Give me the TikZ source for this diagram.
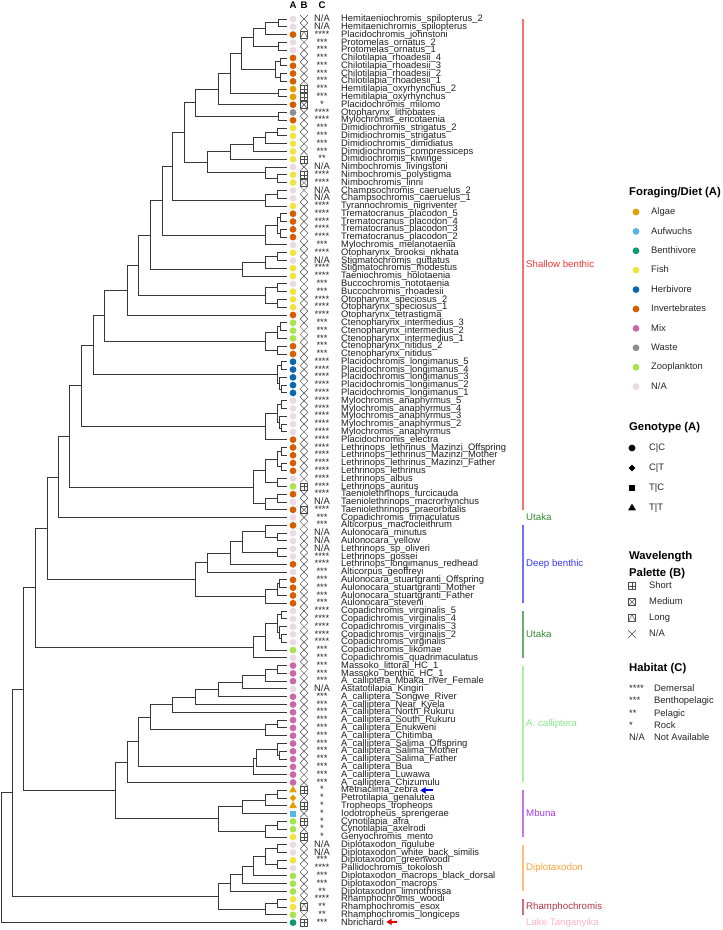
\documentclass[tikz,border=0pt]{standalone}
\usepackage{fontspec}
\setmainfont{Liberation Sans}
\usepackage{xcolor}
\usepackage{tikz}
\usetikzlibrary{shapes.geometric,arrows.meta,calc}
% diet colours
\definecolor{dAlg}{HTML}{E69F00}
\definecolor{dAuf}{HTML}{56B4E9}
\definecolor{dBen}{HTML}{0E9A6E}
\definecolor{dFis}{HTML}{F0E442}
\definecolor{dHer}{HTML}{0B68B0}
\definecolor{dInv}{HTML}{D55E00}
\definecolor{dMix}{HTML}{C86AA6}
\definecolor{dWas}{HTML}{8E8E8E}
\definecolor{dZoo}{HTML}{A8E34E}
\definecolor{dNA}{HTML}{E9DAE3}
% clade colours
\definecolor{cShal}{HTML}{EE3535}
\definecolor{cUtak}{HTML}{2F8A35}
\definecolor{cDeep}{HTML}{3535F2}
\definecolor{cCall}{HTML}{86E886}
\definecolor{cMbun}{HTML}{A63BE6}
\definecolor{cDipl}{HTML}{FFA33C}
\definecolor{cRham}{HTML}{B03345}
\definecolor{cLake}{HTML}{FFB3C3}
\newcommand\txtNA{N/A}
\newcommand\habsym[1]{\ifcase#1 N/A\or *\or **\or ***\or ****\fi}
% internal node: name, x, two children
\newcommand\clade[4]{%
  \path let \p1=(#3), \p2=(#4) in coordinate (#1) at (#2pt,{0.5*\y1+0.5*\y2});
  \draw[branch] (#1) |- (#3) (#1) |- (#4);}
% clade bar: first tip, last tip, colour, label
\newcommand\cladebar[4]{%
  \draw[cbar, draw=#3!70] ($(t#1)+(235.7,0)$) coordinate (cb#1) -- ($(t#2)+(235.7,0)$) coordinate (ce#1);
  \node[cladelab, text=#3] (cl#1) at ($(cb#1)!.5!(ce#1)+(3.3,0)$) {#4};}

\begin{document}
\begin{tikzpicture}[
    x=1pt, y=-1pt,
    font=\fontsize{9.4}{10}\selectfont,
    branch/.style={line width=0.9pt, draw=black!78},
    genoC/.style={circle, inner sep=0pt, minimum size=6.8pt},
    genoD/.style={diamond, inner sep=0pt, minimum size=7pt},
    genoS/.style={rectangle, inner sep=0pt, minimum size=6pt},
    genoT/.style={regular polygon, regular polygon sides=3, inner sep=0pt, minimum size=9pt},
    palbox/.style={rectangle, draw=black!70, line width=0.45pt, inner sep=0pt, minimum size=7pt},
    palS/.style={palbox, path picture={\draw[black!70, line width=0.45pt]
        (path picture bounding box.north) -- (path picture bounding box.south)
        (path picture bounding box.west) -- (path picture bounding box.east);}},
    palM/.style={palbox, path picture={\draw[black!70, line width=0.45pt]
        (path picture bounding box.north west) -- (path picture bounding box.south east)
        (path picture bounding box.north east) -- (path picture bounding box.south west);}},
    palL/.style={palbox, path picture={\draw[black!70, line width=0.45pt]
        (path picture bounding box.south west) -- (path picture bounding box.north)
        -- (path picture bounding box.south east);}},
    palN/.style={rectangle, inner sep=0pt, minimum size=7.6pt, path picture={\draw[black!70, line width=0.5pt]
        (path picture bounding box.north west) -- (path picture bounding box.south east)
        (path picture bounding box.north east) -- (path picture bounding box.south west);}},
    habtxt/.style={inner sep=0pt, anchor=mid, text=black!85},
    tiplab/.style={anchor=mid west, inner sep=0pt, text=black!88},
    hdr/.style={inner sep=0pt, font=\fontsize{9.6}{11}\selectfont\bfseries},
    cbar/.style={line width=1.7pt},
    cladelab/.style={anchor=mid west, inner sep=0pt, font=\fontsize{9.7}{11}\selectfont},
    legtxt/.style={anchor=mid west, inner sep=0pt, text=black!85},
    legtitle/.style={anchor=mid west, inner sep=0pt, font=\fontsize{11.3}{13}\selectfont\bfseries},
    pointer/.style={line width=1.9pt, -{Triangle[length=5.5pt, width=6.2pt]}}
  ]
  \useasboundingbox (0,0) rectangle (723,930);

  % column heads
  \node[hdr] (hA) at (293,5) {A};
  \node[hdr] (hB) at (304,5) {B};
  \node[hdr] (hC) at (322,5) {C};

  % tips: label / diet / genotype / palette / habitat
  \foreach \lbl/\diet/\gen/\pal/\hab [count=\i] in {
    Hemitaeniochromis\_spilopterus\_2/NA/C/N/0,
    Hemitaenichromis\_spilopterus/NA/C/N/0,
    Placidochromis\_johnstoni/Inv/C/L/4,
    Protomelas\_ornatus\_2/NA/C/N/3,
    Protomelas\_ornatus\_1/NA/C/N/3,
    Chilotilapia\_rhoadesii\_4/Inv/C/N/3,
    Chilotilapia\_rhoadesii\_3/Inv/C/N/3,
    Chilotilapia\_rhoadesii\_2/Inv/C/N/3,
    Chilotilapia\_rhoadesii\_1/Inv/C/N/3,
    Hemitilapia\_oxyrhynchus\_2/Alg/C/S/3,
    Hemitilapia\_oxyrhynchus/Alg/C/S/3,
    Placidochromis\_milomo/Inv/C/M/1,
    Otopharynx\_lithobates/Was/C/N/4,
    Mylochromis\_ericotaenia/Inv/C/N/4,
    Dimidiochromis\_strigatus\_2/Fis/C/N/3,
    Dimidiochromis\_strigatus/Fis/C/N/3,
    Dimidiochromis\_dimidiatus/Fis/C/N/3,
    Dimidiochromis\_compressiceps/Fis/C/N/3,
    Dimidiochromis\_kiwinge/Fis/C/S/2,
    Nimbochromis\_livingstoni/NA/C/N/0,
    Nimbochromis\_polystigma/Fis/C/S/4,
    Nimbochromis\_linni/Fis/C/M/4,
    Champsochromis\_caeruelus\_2/NA/C/N/0,
    Champsochromis\_caeruelus\_1/NA/C/N/0,
    Tyrannochromis\_nigriventer/Fis/C/N/4,
    Trematocranus\_placodon\_5/Inv/C/N/4,
    Trematocranus\_placodon\_4/Inv/C/N/4,
    Trematocranus\_placodon\_3/Inv/C/N/4,
    Trematocranus\_placodon\_2/Inv/C/N/4,
    Mylochromis\_melanotaenia/NA/C/N/3,
    Otopharynx\_brooksi\_nkhata/Fis/C/N/4,
    Stigmatochromis\_guttatus/NA/C/N/0,
    Stigmatochromis\_modestus/Fis/C/N/4,
    Taeniochromis\_holotaenia/Fis/C/N/4,
    Buccochromis\_nototaenia/NA/C/N/3,
    Buccochromis\_rhoadesii/Fis/C/N/3,
    Otopharynx\_speciosus\_2/Fis/C/N/4,
    Otopharynx\_speciosus\_1/Fis/C/N/4,
    Otopharynx\_tetrastigma/Inv/C/N/4,
    Ctenopharynx\_intermedius\_3/Zoo/C/N/3,
    Ctenopharynx\_intermedius\_2/Zoo/C/N/3,
    Ctenopharynx\_intermedius\_1/Zoo/C/N/3,
    Ctenopharynx\_nitidus\_2/Inv/C/N/3,
    Ctenopharynx\_nitidus/Inv/C/N/3,
    Placidochromis\_longimanus\_5/Her/C/N/4,
    Placidochromis\_longimanus\_4/Her/C/N/4,
    Placidochromis\_longimanus\_3/Her/C/N/4,
    Placidochromis\_longimanus\_2/Her/C/N/4,
    Placidochromis\_longimanus\_1/Her/C/N/4,
    Mylochromis\_anaphyrmus\_5/NA/C/N/4,
    Mylochromis\_anaphyrmus\_4/NA/C/N/4,
    Mylochromis\_anaphyrmus\_3/NA/C/N/4,
    Mylochromis\_anaphyrmus\_2/NA/C/N/4,
    Mylochromis\_anaphyrmus/NA/C/N/4,
    Placidochromis\_electra/Inv/C/N/4,
    Lethrinops\_lethrinus\_Mazinzi\_Offspring/Inv/C/N/4,
    Lethrinops\_lethrinus\_Mazinzi\_Mother/Inv/C/N/4,
    Lethrinops\_lethrinus\_Mazinzi\_Father/Inv/C/N/4,
    Lethrinops\_lethrinus/Inv/C/N/4,
    Lethrinops\_albus/NA/C/N/4,
    Lethrinops\_auritus/Zoo/C/S/4,
    Taeniolethrinops\_furcicauda/Inv/C/N/4,
    Taeniolethrinops\_macrorhynchus/NA/C/N/0,
    Taeniolethrinops\_praeorbitalis/Inv/C/M/4,
    Copadichromis\_trimaculatus/NA/C/N/3,
    Alticorpus\_macrocleithrum/Inv/C/N/3,
    Aulonocara\_minutus/NA/C/N/0,
    Aulonocara\_yellow/NA/C/N/0,
    Lethrinops\_sp\_oliveri/NA/C/N/0,
    Lethrinops\_gossei/NA/C/N/4,
    Lethrinops\_longimanus\_redhead/Inv/C/N/4,
    Alticorpus\_geoffreyi/NA/C/N/3,
    Aulonocara\_stuartgranti\_Offspring/Inv/C/N/3,
    Aulonocara\_stuartgranti\_Mother/Inv/C/N/3,
    Aulonocara\_stuartgranti\_Father/Inv/C/N/3,
    Aulonocara\_steveni/Inv/C/N/3,
    Copadichromis\_virginalis\_5/NA/C/N/4,
    Copadichromis\_virginalis\_4/NA/C/N/4,
    Copadichromis\_virginalis\_3/NA/C/N/4,
    Copadichromis\_virginalis\_2/NA/C/N/4,
    Copadichromis\_virginalis/NA/C/N/4,
    Copadichromis\_likomae/Zoo/C/N/3,
    Copadichromis\_quadrimaculatus/NA/C/N/3,
    Massoko\_littoral\_HC\_1/Mix/C/N/3,
    Massoko\_benthic\_HC\_1/Mix/C/N/3,
    A\_calliptera\_Mbaka\_river\_Female/Mix/C/N/3,
    Astatotilapia\_Kingiri/NA/C/N/0,
    A\_calliptera\_Songwe\_River/Mix/C/N/3,
    A\_calliptera\_Near\_Kyela/Mix/C/N/3,
    A\_calliptera\_North\_Rukuru/Mix/C/N/3,
    A\_calliptera\_South\_Rukuru/Mix/C/N/3,
    A\_calliptera\_Enukweni/Mix/C/N/3,
    A\_calliptera\_Chitimba/Mix/C/N/3,
    A\_calliptera\_Salima\_Offspring/Mix/C/N/3,
    A\_calliptera\_Salima\_Mother/Mix/C/N/3,
    A\_calliptera\_Salima\_Father/Mix/C/N/3,
    A\_calliptera\_Bua/Mix/C/N/3,
    A\_calliptera\_Luwawa/Mix/C/N/3,
    A\_calliptera\_Chizumulu/Mix/C/N/3,
    Metriaclima\_zebra/Alg/T/S/1,
    Petrotilapia\_genalutea/Alg/D/N/1,
    Tropheops\_tropheops/Alg/T/S/1,
    Iodotropheus\_sprengerae/Auf/S/N/1,
    Cynotilapia\_afra/Zoo/C/S/1,
    Cynotilapia\_axelrodi/Zoo/C/N/1,
    Genyochromis\_mento/Fis/C/S/1,
    Diplotaxodon\_ngulube/NA/C/N/0,
    Diplotaxodon\_white\_back\_similis/NA/C/N/0,
    Diplotaxodon\_greenwoodi/Fis/C/N/3,
    Pallidochromis\_tokolosh/NA/C/N/4,
    Diplotaxodon\_macrops\_black\_dorsal/Zoo/C/N/3,
    Diplotaxodon\_macrops/Zoo/C/N/3,
    Diplotaxodon\_limnothrissa/Zoo/C/N/2,
    Rhamphochromis\_woodi/Fis/C/N/4,
    Rhamphochromis\_esox/Fis/C/L/2,
    Rhamphochromis\_longiceps/Zoo/C/N/2,
    Nbrichardi/Ben/C/S/3}{
    \pgfmathsetmacro\ty{19+7.79*(\i-1)}
    \coordinate (t\i) at (287,\ty);
    \node[geno\gen, fill=d\diet] (d\i) at (293,\ty) {};
    \node[pal\pal] (p\i) at (304,\ty) {};
    \node[habtxt] (h\i) at (322,\ty) {\habsym{\hab}};
    \node[tiplab] (lab\i) at (341,\ty) {\lbl};
  }

  % tree, top to bottom
  \clade{n1}{278}{t1}{t2}
  \clade{n2}{265}{n1}{t3}
  \clade{n3}{278}{t4}{t5}
  \clade{n4}{253}{n2}{n3}
  \clade{n5}{280}{t6}{t7}
  \clade{n6}{280}{t8}{t9}
  \clade{n7}{275}{n5}{n6}
  \clade{n8}{241}{n4}{n7}
  \clade{n9}{278}{t10}{t11}
  \clade{n10}{230}{n8}{n9}
  \clade{n11}{218}{n10}{t12}
  \clade{n12}{278}{t13}{t14}
  \clade{n13}{195}{n11}{n12}
  \clade{n14}{277}{t15}{t16}
  \clade{n15}{265}{n14}{t17}
  \clade{n16}{253}{n15}{t18}
  \clade{n17}{230}{n16}{t19}
  \clade{n18}{277}{t21}{t22}
  \clade{n19}{265}{t20}{n18}
  \clade{n20}{207}{n17}{n19}
  \clade{n21}{184}{n13}{n20}
  \clade{n22}{277}{t23}{t24}
  \clade{n23}{265}{n22}{t25}
  \clade{n24}{172}{n21}{n23}
  \clade{n25}{280}{t26}{t27}
  \clade{n26}{280}{t28}{t29}
  \clade{n27}{277}{n25}{n26}
  \clade{n28}{265}{n27}{t30}
  \clade{n29}{162}{n24}{n28}
  \clade{n30}{277}{t31}{t32}
  \clade{n31}{265}{n30}{t33}
  \clade{n32}{242}{n31}{t34}
  \clade{n33}{150}{n29}{n32}
  \clade{n34}{277}{t35}{t36}
  \clade{n35}{277}{t37}{t38}
  \clade{n36}{265}{n34}{n35}
  \clade{n37}{138}{n33}{n36}
  \clade{n38}{127}{n37}{t39}
  \clade{n39}{280}{t40}{t41}
  \clade{n40}{277}{n39}{t42}
  \clade{n41}{277}{t43}{t44}
  \clade{n42}{265}{n40}{n41}
  \clade{n43}{104}{n38}{n42}
  \clade{n44}{281}{t45}{t46}
  \clade{n45}{281}{t48}{t49}
  \clade{n46}{279}{t47}{n45}
  \clade{n47}{277}{n44}{n46}
  \clade{n48}{93}{n43}{n47}
  \clade{n49}{281}{t50}{t51}
  \clade{n50}{281}{t53}{t54}
  \clade{n51}{279}{t52}{n50}
  \clade{n52}{277}{n49}{n51}
  \clade{n53}{265}{n52}{t55}
  \clade{n54}{81}{n48}{n53}
  \clade{n55}{281}{t56}{t57}
  \clade{n56}{281}{t58}{t59}
  \clade{n57}{277}{n55}{n56}
  \clade{n58}{277}{t60}{t61}
  \clade{n59}{265}{n57}{n58}
  \clade{n60}{277}{t62}{t63}
  \clade{n61}{265}{n60}{t64}
  \clade{n62}{253}{n59}{n61}
  \clade{n63}{69}{n54}{n62}
  \clade{n64}{58}{n63}{t65}
  \clade{n65}{277}{t67}{t68}
  \clade{n66}{265}{t66}{n65}
  \clade{n67}{277}{t69}{t70}
  \clade{n68}{242}{n66}{n67}
  \clade{n69}{230}{n68}{t71}
  \clade{n70}{207}{n69}{t72}
  \clade{n71}{279}{t73}{t74}
  \clade{n72}{277}{n71}{t75}
  \clade{n73}{265}{n72}{t76}
  \clade{n74}{195}{n70}{n73}
  \clade{n75}{47}{n64}{n74}
  \clade{n76}{281}{t77}{t78}
  \clade{n77}{281}{t80}{t81}
  \clade{n78}{279}{t79}{n77}
  \clade{n79}{277}{n76}{n78}
  \clade{n80}{265}{n79}{t82}
  \clade{n81}{253}{n80}{t83}
  \clade{n82}{35}{n75}{n81}
  \clade{n83}{277}{t84}{t85}
  \clade{n84}{265}{n83}{t86}
  \clade{n85}{242}{n84}{t87}
  \clade{n86}{218}{n85}{t88}
  \clade{n87}{195}{n86}{t89}
  \clade{n88}{172}{n87}{t90}
  \clade{n89}{277}{t91}{t92}
  \clade{n90}{265}{n89}{t93}
  \clade{n91}{150}{n88}{n90}
  \clade{n92}{279}{t95}{t96}
  \clade{n93}{277}{t94}{n92}
  \clade{n94}{256}{n93}{t97}
  \clade{n95}{253}{n94}{t98}
  \clade{n96}{138}{n91}{n95}
  \clade{n97}{127}{n96}{t99}
  \clade{n98}{277}{t100}{t101}
  \clade{n99}{265}{n98}{t102}
  \clade{n100}{242}{n99}{t103}
  \clade{n101}{277}{t104}{t105}
  \clade{n102}{265}{n101}{t106}
  \clade{n103}{218}{n100}{n102}
  \clade{n104}{115}{n97}{n103}
  \clade{n105}{23}{n82}{n104}
  \clade{n106}{277}{t107}{t108}
  \clade{n107}{277}{t109}{t110}
  \clade{n108}{265}{n106}{n107}
  \clade{n109}{253}{n108}{t111}
  \clade{n110}{242}{n109}{t112}
  \clade{n111}{230}{n110}{t113}
  \clade{n112}{277}{t114}{t115}
  \clade{n113}{265}{n112}{t116}
  \clade{n114}{218}{n111}{n113}
  \clade{n115}{12}{n105}{n114}
  \clade{root}{1}{n115}{t117}

  % markers for the two reference genomes
  \draw[pointer, draw=blue!85!black, fill=blue!85!black] ([xshift=15pt]lab100.east) -- ([xshift=2pt]lab100.east);
  \draw[pointer, draw=red!90!black, fill=red!90!black] ([xshift=13pt]lab117.east) -- ([xshift=2pt]lab117.east);

  % habitat groups
  \cladebar{1}{64}{cShal}{Shallow benthic}
  \cladebar{65}{65}{cUtak}{Utaka}
  \cladebar{66}{76}{cDeep}{Deep benthic}
  \cladebar{77}{83}{cUtak}{Utaka}
  \cladebar{84}{99}{cCall}{A. calliptera}
  \cladebar{100}{106}{cMbun}{Mbuna}
  \cladebar{107}{113}{cDipl}{Diplotaxodon}
  \cladebar{114}{116}{cRham}{Rhamphochromis}
  \cladebar{117}{117}{cLake}{Lake Tanganyika}

  % legend: diet
  \node[legtitle] (tDiet) at (629,193) {Foraging/Diet (A)};
  \foreach \dn/\dc [count=\k from 0] in {Algae/Alg, Aufwuchs/Auf, Benthivore/Ben, Fish/Fis,
      Herbivore/Her, Invertebrates/Inv, Mix/Mix, Waste/Was, Zooplankton/Zoo, \txtNA/NA}{
    \node[genoC, fill=d\dc] (ld\k) at (636,{212+19.4*\k}) {};
    \node[legtxt] (ldt\k) at (651,{212+19.4*\k}) {\dn};
  }
  % legend: genotype
  \node[legtitle] (tGeno) at (629,428) {Genotype (A)};
  \foreach \gs/\gn [count=\k from 0] in {C/C|C, D/C|T, S/T|C, T/T|T}{
    \node[geno\gs, fill=black] (lg\k) at (632,{448+20*\k}) {};
    \node[legtxt] (lgt\k) at (649,{448+20*\k}) {\gn};
  }
  % legend: palette
  \node[legtitle] (tPal) at (629,557) {Wavelength};
  \node[legtitle] (tPal2) at (629,574) {Palette (B)};
  \foreach \ps/\pn [count=\k from 0] in {S/Short, M/Medium, L/Long, N/\txtNA}{
    \node[pal\ps] (lp\k) at (632,{586+16*\k}) {};
    \node[legtxt] (lpt\k) at (649,{586+16*\k}) {\pn};
  }
  % legend: habitat
  \node[legtitle] (tHab) at (629,669) {Habitat (C)};
  \foreach \hc/\hn [count=\k from 0] in {4/Demersal, 3/Benthopelagic, 2/Pelagic, 1/Rock, 0/Not Available}{
    \node[legtxt] (lh\k) at (629,{689+12.2*\k}) {\habsym{\hc}};
    \node[legtxt] (lht\k) at (654,{689+12.2*\k}) {\hn};
  }
\end{tikzpicture}
\end{document}
